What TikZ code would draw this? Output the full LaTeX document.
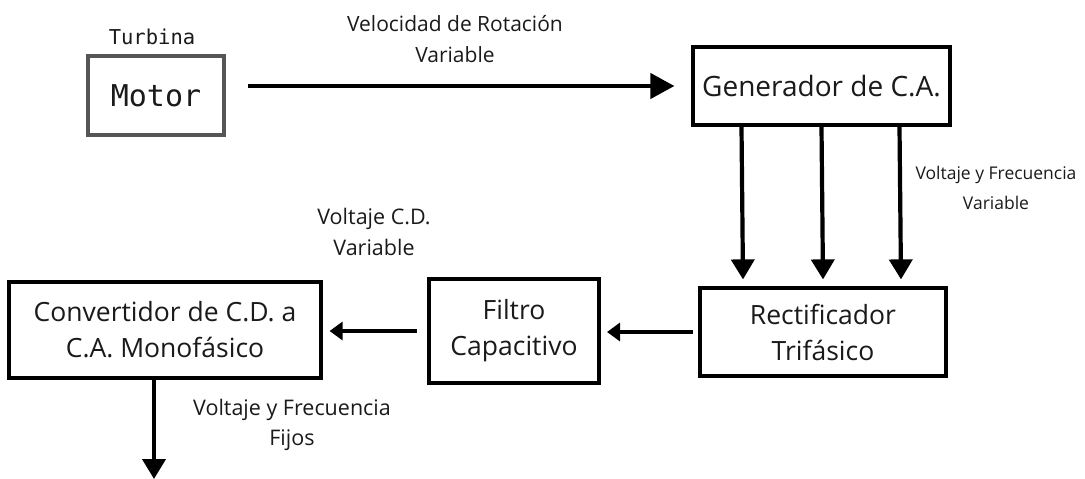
\documentclass[tikz,border=0pt]{standalone}
\usepackage{fontspec}
\usepackage{tikz}
\usetikzlibrary{arrows.meta}
\setmainfont{Open Sans}
\newfontfamily\monofont{DejaVu Sans Mono}
\definecolor{gbgray}{HTML}{555555}
\definecolor{gbtext}{HTML}{1A1A1A}

\begin{document}
\begin{tikzpicture}[x=1pt, y=-1pt,
  block/.style={draw=black, line width=3.2pt, fill=white, inner sep=0pt, align=center, text=gbtext, font=\fontsize{26.5}{36}\selectfont},
  note/.style={align=center, text=gbtext, inner sep=0pt},
  flow/.style={line width=4.2pt, -{Triangle[length=24pt,width=25pt]}},
  drop/.style={line width=4.2pt, -{Triangle[length=20pt,width=23pt]}},
  back/.style={line width=3.4pt, -{Triangle[length=13pt,width=18pt]}}]
  \useasboundingbox (0,0) rectangle (1085,479);
  % blocks
  \node[block, draw=gbgray, line width=3.6pt, minimum width=136pt, minimum height=79pt, font=\monofont\fontsize{30}{36}\selectfont] (motor) at (156,95.5) {Motor};
  \node[block, minimum width=257pt, minimum height=78pt, font=\fontsize{28}{36}\selectfont] (gen) at (821.5,86) {Generador de C.A.};
  \node[block, minimum width=246pt, minimum height=88pt] (rect) at (823,332) {Rectificador\\Trifásico};
  \node[block, line width=4pt, minimum width=170pt, minimum height=104pt] (filtro) at (514,331) {Filtro\\Capacitivo};
  \node[block, minimum width=312pt, minimum height=96pt] (conv) at (165,330) {Convertidor de C.D. a\\C.A. Monofásico};
  \coordinate (out) at (154,479);
  % labels
  \node[note, font=\monofont\fontsize{20.5}{24}\selectfont] (turb) at (152,37) {Turbina};
  \node[note, font=\fontsize{21}{31}\selectfont] (vel) at (455,39) {Velocidad de Rotación\\Variable};
  \node[note, font=\fontsize{17.5}{30}\selectfont] (vfvar) at (996,188) {Voltaje y Frecuencia\\Variable};
  \node[note, font=\fontsize{21.5}{31}\selectfont] (vcd) at (374,232) {Voltaje C.D.\\Variable};
  \node[note, font=\fontsize{21.5}{30}\selectfont] (vffij) at (292,425) {Voltaje y Frecuencia\\Fijos};
  % connectors
  \draw[flow] ([xshift=22pt]motor.east |- gen.west) -- ([xshift=-17pt]gen.west);
  \foreach \dx in {-80,0,78}
    \draw[drop] ([xshift=\dx pt]gen.south) -- ([xshift=\dx pt, yshift=7pt]rect.north);
  \draw[back, shorten <=5pt, shorten >=6pt] (rect.west) -- (filtro.east |- rect.west);
  \draw[back, shorten <=10pt, shorten >=7pt] (filtro.west) -- (conv.east |- filtro.west);
  \draw[drop] (out |- conv.south) -- (out);
\end{tikzpicture}
\end{document}
